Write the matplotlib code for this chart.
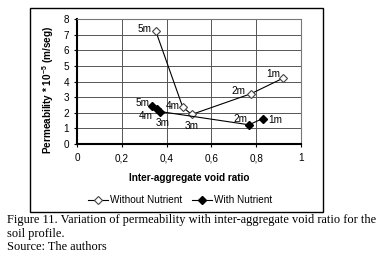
import matplotlib
matplotlib.use("Agg")
import matplotlib.pyplot as plt
from matplotlib.patches import Rectangle

# data
depths = ["5m", "4m", "3m", "2m", "1m"]
void_without = [0.351, 0.472, 0.512, 0.777, 0.921]
perm_without = [7.25, 2.36, 1.89, 3.22, 4.22]
void_with = [0.337, 0.355, 0.370, 0.768, 0.829]
perm_with = [2.44, 2.24, 2.08, 1.23, 1.63]

# label offsets (points) for each depth label
offs_without = [(-3, 1, "right"), (-2, 1, "right"), (0, -8, "center"), (-4, 2, "right"), (-2, 3, "right")]
offs_with = [(-2, 2, "right"), (-3, -5, "right"), (2, -8, "center"), (-1, 4, "right"), (4, -1, "left")]

plt.rcParams["font.family"] = ["Liberation Sans", "DejaVu Sans"]
plt.rcParams["mathtext.fontset"] = "custom"
plt.rcParams["mathtext.bf"] = "Liberation Sans:bold"
plt.rcParams["mathtext.rm"] = "Liberation Sans"

fs = 7.2

fig = plt.figure(figsize=(3.83, 2.58), dpi=100)
ax = fig.add_axes([77 / 383, 1 - 144 / 258, 224 / 383, 125 / 258])

ax.plot(void_without, perm_without, color="black", lw=0.8, marker="D", ms=4.4,
        mfc="white", mec="#444444", mew=0.8, label="Without Nutrient")
ax.plot(void_with, perm_with, color="black", lw=0.8, marker="D", ms=4.4,
        mfc="black", mec="black", label="With Nutrient")

for x, y, t, (dx, dy, ha) in zip(void_without, perm_without, depths, offs_without):
    ax.annotate(t, (x, y), xytext=(dx, dy), textcoords="offset points",
                ha=ha, va="center", fontsize=fs)
for x, y, t, (dx, dy, ha) in zip(void_with, perm_with, depths, offs_with):
    ax.annotate(t, (x, y), xytext=(dx, dy), textcoords="offset points",
                ha=ha, va="center", fontsize=fs)

ax.set_xlim(0, 1)
ax.set_ylim(0, 8)
ax.set_xticks([0, 0.2, 0.4, 0.6, 0.8, 1])
ax.set_xticklabels(["0", "0,2", "0,4", "0,6", "0,8", "1"])
ax.set_yticks(range(0, 9))
ax.tick_params(axis="both", labelsize=fs, length=2.5, width=0.8, pad=3)
ax.tick_params(axis="x", pad=4)
ax.grid(True, color="#555555", lw=0.7)
ax.set_axisbelow(True)
ax.spines["left"].set_linewidth(1.5)
ax.spines["bottom"].set_linewidth(1.5)
ax.spines["top"].set_color("#777777")
ax.spines["right"].set_color("#777777")

fig.text(189 / 383, 1 - 178 / 258, "Inter-aggregate void ratio", fontsize=fs,
         fontweight="bold", ha="center", va="center")
fig.text(48 / 383, 1 - 90 / 258, "Permeability * 10$^{\\mathbf{-5}}$ (m/seg)", fontsize=fs,
         fontweight="bold", rotation=90, ha="center", va="center")

fig.legend(loc="center", bbox_to_anchor=(180 / 383, 1 - 200 / 258), ncol=2, frameon=False,
           fontsize=fs, handlelength=2.0, columnspacing=1.0, handletextpad=0.2)

fig.patches.append(Rectangle((30 / 383, 1 - 212 / 258), 293 / 383, 204 / 258,
                             transform=fig.transFigure, fill=False, ec="black", lw=1))

cap = dict(family=["Liberation Serif", "DejaVu Serif"], fontsize=8.95, va="center", ha="left")
fig.text(7 / 383, 1 - 220 / 258, "Figure 11. Variation of permeability with inter-aggregate void ratio for the", **cap)
fig.text(7 / 383, 1 - 234 / 258, "soil profile.", **cap)
fig.text(7 / 383, 1 - 247.5 / 258, "Source: The authors", **cap)

fig.savefig("out.png", dpi=100)
